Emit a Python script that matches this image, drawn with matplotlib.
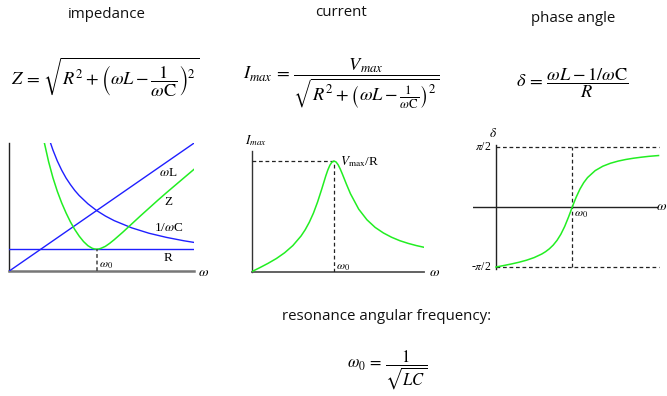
import matplotlib
matplotlib.use("Agg")
import matplotlib.pyplot as plt
import numpy as np

plt.rcParams["mathtext.fontset"] = "stix"

# ---- impedance panel (omega in units of omega_0, reactances in units of R) ----
omega_z = [0.40, 0.45, 0.50, 0.55, 0.60, 0.65, 0.70, 0.75, 0.80, 0.85, 0.90, 0.95,
           0.975, 1.00, 1.025, 1.05, 1.10, 1.15, 1.20, 1.30, 1.40, 1.50, 1.60, 1.70,
           1.80, 1.90, 2.00, 2.115]
z_vals = [5.90, 5.01, 4.27, 3.65, 3.12, 2.66, 2.25, 1.90, 1.60, 1.35, 1.16, 1.04,
          1.01, 1.00, 1.01, 1.04, 1.13, 1.27, 1.43, 1.78, 2.15, 2.52, 2.88, 3.24,
          3.59, 3.93, 4.27, 4.66]

omega_xc = [0.47, 0.50, 0.55, 0.60, 0.65, 0.70, 0.75, 0.80, 0.90, 1.00, 1.10, 1.20,
            1.40, 1.60, 1.80, 2.00, 2.115]
xc_vals = [5.89, 5.54, 5.04, 4.62, 4.26, 3.96, 3.69, 3.46, 3.08, 2.77, 2.52, 2.31,
           1.98, 1.73, 1.54, 1.385, 1.31]

omega_xl = [0.0, 2.115]
xl_vals = [0.0, 5.86]

omega_r = [0.0, 2.115]
r_vals = [1.0, 1.0]

# ---- current panel (current in units of Vmax/R) ----
omega_i = [0.0, 0.1, 0.2, 0.3, 0.4, 0.5, 0.6, 0.65, 0.7, 0.75, 0.8, 0.85, 0.9,
           0.925, 0.95, 0.975, 1.0, 1.025, 1.05, 1.075, 1.1, 1.15, 1.2, 1.3, 1.4,
           1.5, 1.6, 1.7, 1.8, 1.9, 2.0, 2.097]
i_vals = [0.0, 0.037, 0.076, 0.119, 0.171, 0.236, 0.323, 0.379, 0.447, 0.529,
          0.629, 0.744, 0.865, 0.919, 0.962, 0.990, 1.0, 0.991, 0.966, 0.929,
          0.885, 0.792, 0.704, 0.565, 0.469, 0.400, 0.350, 0.311, 0.280, 0.256,
          0.236, 0.220]

# ---- phase panel (delta in radians) ----
omega_d = [0.0, 0.1, 0.2, 0.3, 0.4, 0.5, 0.6, 0.65, 0.7, 0.75, 0.8, 0.85, 0.9,
           0.95, 0.975, 1.0, 1.025, 1.05, 1.1, 1.15, 1.2, 1.3, 1.4, 1.5, 1.6,
           1.7, 1.8, 1.9, 2.0, 2.13]
d_vals = [-1.5708, -1.5327, -1.4924, -1.4470, -1.3930, -1.3243, -1.2308, -1.1694,
          -1.0930, -0.9967, -0.8729, -0.7131, -0.5103, -0.2654, -0.1330, 0.0,
          0.1300, 0.2530, 0.4684, 0.6389, 0.7711, 0.9529, 1.0678, 1.1453, 1.2016,
          1.2438, 1.2763, 1.3027, 1.3256, 1.3473]

titles = ["impedance", "current", "phase angle"]

W, H = 667, 396
fig = plt.figure(figsize=(W / 100, H / 100), dpi=100)
fig.patch.set_facecolor("white")

BLUE = "#1f1fff"
GREEN = "#22ee22"
SERIF = "Liberation Serif"
SANS = "Open Sans"


def panel(left, right, top, bottom, xlim, ylim):
    ax = fig.add_axes([left / W, 1 - bottom / H, (right - left) / W, (bottom - top) / H])
    ax.set_xlim(*xlim)
    ax.set_ylim(*ylim)
    ax.axis("off")
    return ax


def ftext(x, y, s, **kw):
    fig.text(x / W, 1 - y / H, s, **kw)


# titles and formulas
tkw = dict(ha="center", va="center", family=SANS, fontsize=10.8, color="#111")
ftext(107, 14, titles[0], **tkw)
ftext(341, 12, titles[1], **tkw)
ftext(573, 18, titles[2], **tkw)
ftext(387, 317, "resonance angular frequency:", **tkw)

ftext(105, 77, r"$Z\,=\,\sqrt{R^2+\left(\omega L-\dfrac{1}{\omega \mathrm{C}}\right)^2}$",
      ha="center", va="center", fontsize=13.2)
ftext(341, 84, r"$I_{max}\,=\,\dfrac{V_{max}}{\sqrt{R^2+\left(\omega L-\frac{1}{\omega \mathrm{C}}\right)^2}}$",
      ha="center", va="center", fontsize=13.2)
ftext(572, 83, r"$\delta\,=\,\dfrac{\omega L-1/\omega \mathrm{C}}{R}$",
      ha="center", va="center", fontsize=13.2)
ftext(387, 370, r"$\omega_0\,=\,\dfrac{1}{\sqrt{LC}}$",
      ha="center", va="center", fontsize=12)

# ---------- impedance ----------
ax1 = panel(9.3, 194, 142.7, 271, (0, 2.115), (0, 5.88))
ax1.plot([0, 0], [0, 5.88], color="#222", lw=1.0, clip_on=False)
ax1.plot([0, 2.115], [0, 0], color="#777", lw=1.8, clip_on=False)
ax1.plot(omega_xl, xl_vals, color=BLUE, lw=1.0)
ax1.plot(omega_r, r_vals, color=BLUE, lw=1.0)
ax1.plot(omega_xc, xc_vals, color=BLUE, lw=1.0)
ax1.plot(omega_z, z_vals, color=GREEN, lw=1.1)
ax1.plot([1.0, 1.0], [0, 1.0], color="#444", lw=1.1, dashes=(2.5, 1.8))
lab = dict(family=SERIF, fontsize=9.5, ha="center", va="center", clip_on=False)
ax1.text(1.82, 4.50, r"$\omega$L", **lab)
ax1.text(1.82, 3.16, "Z", **lab)
ax1.text(1.82, 1.97, r"1/$\omega$C", **lab)
ax1.text(1.82, 0.60, "R", **lab)
ax1.text(1.03, 0.28, r"$\omega_0$", family=SERIF, fontsize=8.5, ha="left", va="center")
ax1.text(2.22, -0.05, r"$\omega$", family=SERIF, fontsize=10, ha="center", va="center")

# ---------- current ----------
ax2 = panel(251.7, 424.3, 150.7, 271.7, (0, 2.097), (0, 1.093))
ax2.plot([0, 0], [0, 1.093], color="#333", lw=1.0, clip_on=False)
ax2.plot([0, 2.097], [0, 0], color="#555", lw=1.3, clip_on=False)
ax2.plot([0, 1.0], [1.0, 1.0], color="#222", lw=0.9, dashes=(3, 2.2))
ax2.plot([1.0, 1.0], [0, 1.0], color="#222", lw=0.9, dashes=(3, 2.2))
ax2.plot(omega_i, i_vals, color=GREEN, lw=1.1)
ax2.text(0.05, 1.18, r"$I_{max}$", fontsize=9.5, ha="center", va="center")
ax2.text(1.073, 0.994, r"$V_{\mathrm{max}}$/R", family=SERIF, fontsize=9.5,
         ha="left", va="center")
ax2.text(1.02, 0.045, r"$\omega_0$", family=SERIF, fontsize=8.5, ha="left", va="center")
ax2.text(2.22, -0.01, r"$\omega$", family=SERIF, fontsize=10, ha="center", va="center")

# ---------- phase angle ----------
half_pi = np.pi / 2
ax3 = panel(473, 667, 140, 272, (-0.3014, 2.241), (-1.7017, 1.754))
ax3.plot([-0.3014, 2.106], [0, 0], color="#222", lw=1.0)
ax3.plot([0, 0], [-half_pi - 0.04, half_pi + 0.04], color="#222", lw=1.0)
ax3.plot([0, 2.13], [half_pi, half_pi], color="#222", lw=0.9, dashes=(3, 2.2))
ax3.plot([0, 2.13], [-half_pi, -half_pi], color="#222", lw=0.9, dashes=(3, 2.2))
ax3.plot([1.0, 1.0], [-half_pi, half_pi], color="#222", lw=0.9, dashes=(3, 2.2))
ax3.plot(omega_d, d_vals, color=GREEN, lw=1.1)
ax3.text(-0.04, 1.937, r"$\delta$", fontsize=9.5, ha="center", va="center")
ax3.text(-0.06, half_pi, r"$\pi$/2", family=SERIF, fontsize=8.5, ha="right", va="center")
ax3.text(-0.06, -half_pi, r"-$\pi$/2", family=SERIF, fontsize=8.5, ha="right", va="center")
ax3.text(1.02, -0.18, r"$\omega_0$", family=SERIF, fontsize=8.5, ha="left", va="center")
ax3.text(2.236, 0.0, r"$\omega$", family=SERIF, fontsize=10, ha="right", va="center")

fig.savefig("out.png", dpi=100, facecolor="white")
